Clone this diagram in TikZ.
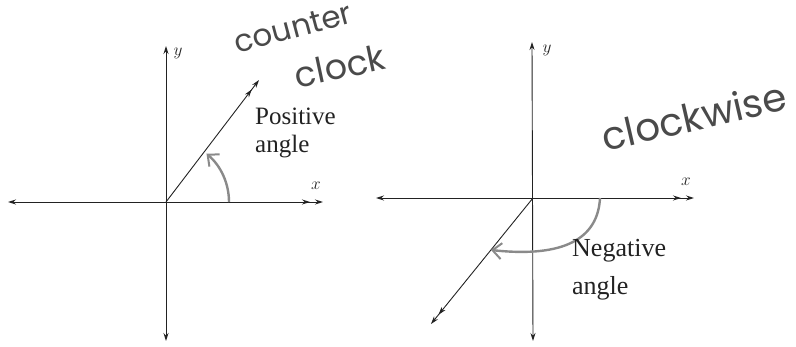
\documentclass[tikz,border=0pt]{standalone}
\usepackage{fontspec}
\setmainfont{Liberation Serif}
\newfontfamily\hand{Poppins}
\usetikzlibrary{arrows.meta}
\definecolor{ink}{HTML}{222222}
\definecolor{pencil}{HTML}{8A8A8A}
\definecolor{marker}{HTML}{4A4A4A}
\tikzset{
  axis/.style={draw=ink, line width=0.9pt},
  turn/.style={draw=pencil, line width=2.4pt, -{Straight Barb[length=9pt,width=16pt,line width=2pt]}},
  lbl/.style={inner sep=0pt, font=\fontsize{25}{27}\selectfont, text=ink},
  axlbl/.style={inner sep=0pt, font=\fontsize{18}{19}\selectfont, text=ink},
  note/.style={inner sep=0pt, font=\hand\fontsize{31}{33}\selectfont, text=marker}
}
\begin{document}
\begin{tikzpicture}[x=1pt,y=1pt]
\useasboundingbox (0,0) rectangle (796,-347);
% left diagram
\coordinate (O1) at (166,-202);
\coordinate (Y1t) at (166,-46);
\coordinate (Y1b) at (166,-341);
\coordinate (X1l) at (8,-202);
\coordinate (X1r) at (323,-202);
\coordinate (R1) at (259,-80);
\coordinate (A1s) at (229,-202);
\draw[axis, {Stealth[length=8pt,width=5pt]}-{Stealth[length=8pt,width=5pt]}] (Y1b) -- (Y1t);
\draw[axis, {Stealth[length=8pt,width=5pt]}-{Stealth[length=8pt,width=5pt,sep=5pt]Stealth[length=8pt,width=5pt]}] (X1l) -- (X1r);
\draw[axis, -{Stealth[length=8pt,width=5pt,sep=4pt]Stealth[length=8pt,width=5pt]}] (O1) -- (R1);
\draw[turn] (A1s) arc[start angle=0, end angle=50, radius=63];
\node[axlbl] (x1) at (316,-186) {$x$};
\node[axlbl] (y1) at (178,-53) {$y$};
\node[lbl, anchor=base west] (pos) at (255,-125) {Positive};
\node[lbl, anchor=base west] (ang1) at (255,-153) {angle};
\node[note, rotate=15] (cc1) at (293,-28) {counter};
\node[note, rotate=12, font=\hand\fontsize{35}{37}\selectfont] (cc2) at (340,-66) {clock};
% right diagram
\coordinate (O2) at (533,-198);
\coordinate (Y2t) at (532,-42);
\coordinate (Y2b) at (533,-341);
\coordinate (X2l) at (376,-198);
\coordinate (X2r) at (694,-198);
\coordinate (R2) at (431,-324);
\coordinate (A2s) at (600,-198);
\coordinate (A2e) at (491,-250);
\draw[axis, {Stealth[length=8pt,width=5pt]}-{Stealth[length=8pt,width=5pt]}] (Y2b) -- (Y2t);
\draw[axis, {Stealth[length=8pt,width=5pt]}-{Stealth[length=8pt,width=5pt,sep=5pt]Stealth[length=8pt,width=5pt]}] (X2l) -- (X2r);
\draw[axis, -{Stealth[length=8pt,width=5pt,sep=4pt]Stealth[length=8pt,width=5pt]}] (O2) -- (R2);
\draw[turn] (A2s) .. controls (598,-238) and (565,-258) .. (A2e);
\node[axlbl] (x2) at (686,-182) {$x$};
\node[axlbl] (y2) at (547,-50) {$y$};
\node[lbl, anchor=base west, font=\fontsize{26}{28}\selectfont] (neg) at (572,-257) {Negative};
\node[lbl, anchor=base west, font=\fontsize{26}{28}\selectfont] (ang2) at (572,-295) {angle};
\node[note, rotate=13, font=\hand\fontsize{39}{41}\selectfont] (cw) at (694,-116) {clockwise};
\end{tikzpicture}
\end{document}
